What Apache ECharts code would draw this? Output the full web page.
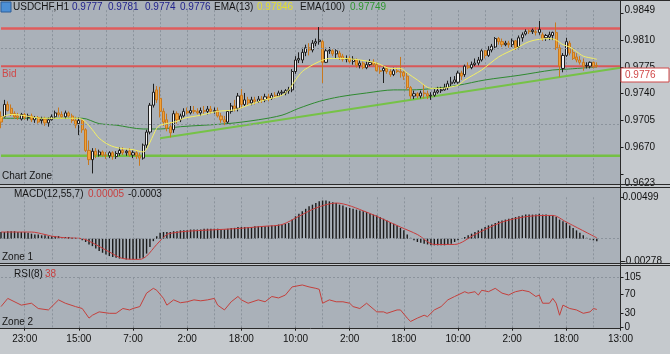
<!DOCTYPE html>
<html>
<head>
<meta charset="utf-8">
<script src="https://cdn.jsdelivr.net/npm/echarts@6/dist/echarts.min.js"></script>
<style>
  html, body { margin: 0; padding: 0; background: #c5c9cd; }
  #chart { width: 670px; height: 354px; }
</style>
</head>
<body>
<div id="chart"></div>
<script>
// time labels under the chart, one every 16 bars starting at bar 7
const timeLabels = ['23:00', '15:00', '7:00', '2:00', '18:00', '10:00', '2:00', '18:00', '10:00', '2:00', '18:00', '13:00']
const firstLabelBar = 7
const barsPerLabel = 16
const barsPerGrid = 8
const slotCount = 184

// USDCHF H1 candles: [open, close, low, high]
const ohlc = [
  [0.9710,0.9703,0.9695,0.9717],[0.9710,0.9726,0.9709,0.9732],[0.9726,0.9718,0.9717,0.9730],[0.9721,0.9714,0.9711,0.9726],[0.9714,0.9710,0.9707,0.9717],
  [0.9711,0.9709,0.9706,0.9715],[0.9707,0.9713,0.9705,0.9715],[0.9713,0.9709,0.9706,0.9715],[0.9709,0.9711,0.9705,0.9714],[0.9711,0.9706,0.9703,0.9714],
  [0.9706,0.9709,0.9702,0.9711],[0.9709,0.9703,0.9701,0.9711],[0.9705,0.9707,0.9701,0.9710],[0.9707,0.9702,0.9698,0.9710],[0.9702,0.9706,0.9697,0.9709],
  [0.9706,0.9710,0.9705,0.9713],[0.9710,0.9715,0.9707,0.9718],[0.9715,0.9713,0.9710,0.9722],[0.9713,0.9710,0.9707,0.9717],[0.9710,0.9715,0.9707,0.9718],
  [0.9715,0.9711,0.9709,0.9717],[0.9711,0.9705,0.9702,0.9714],[0.9705,0.9699,0.9695,0.9710],[0.9701,0.9705,0.9686,0.9709],[0.9705,0.9693,0.9689,0.9707],
  [0.9693,0.9666,0.9664,0.9695],[0.9666,0.9654,0.9647,0.9679],[0.9654,0.9665,0.9636,0.9669],[0.9665,0.9660,0.9656,0.9669],[0.9660,0.9664,0.9658,0.9667],
  [0.9664,0.9660,0.9658,0.9666],[0.9660,0.9659,0.9655,0.9664],[0.9659,0.9663,0.9656,0.9665],[0.9663,0.9658,0.9654,0.9665],[0.9658,0.9662,0.9655,0.9665],
  [0.9662,0.9666,0.9659,0.9670],[0.9666,0.9663,0.9660,0.9670],[0.9663,0.9665,0.9659,0.9667],[0.9665,0.9660,0.9658,0.9669],[0.9660,0.9663,0.9656,0.9666],
  [0.9663,0.9659,0.9655,0.9665],[0.9659,0.9656,0.9646,0.9663],[0.9656,0.9673,0.9654,0.9675],[0.9673,0.9690,0.9669,0.9693],[0.9690,0.9725,0.9687,0.9728],
  [0.9725,0.9742,0.9722,0.9753],[0.9745,0.9732,0.9728,0.9750],[0.9734,0.9717,0.9709,0.9749],[0.9717,0.9703,0.9698,0.9721],[0.9706,0.9695,0.9691,0.9714],
  [0.9697,0.9689,0.9683,0.9703],[0.9693,0.9714,0.9689,0.9718],[0.9714,0.9706,0.9701,0.9717],[0.9706,0.9711,0.9703,0.9714],[0.9711,0.9717,0.9709,0.9721],
  [0.9717,0.9715,0.9713,0.9722],[0.9715,0.9718,0.9713,0.9724],[0.9718,0.9717,0.9714,0.9724],[0.9717,0.9715,0.9713,0.9721],[0.9715,0.9718,0.9711,0.9722],
  [0.9718,0.9717,0.9714,0.9724],[0.9717,0.9720,0.9713,0.9724],[0.9720,0.9717,0.9714,0.9724],[0.9717,0.9718,0.9714,0.9722],[0.9718,0.9711,0.9709,0.9722],
  [0.9711,0.9706,0.9702,0.9715],[0.9706,0.9703,0.9699,0.9711],[0.9703,0.9717,0.9701,0.9718],[0.9717,0.9724,0.9714,0.9728],[0.9724,0.9721,0.9717,0.9732],
  [0.9721,0.9737,0.9717,0.9741],[0.9738,0.9726,0.9721,0.9746],[0.9726,0.9732,0.9724,0.9741],[0.9732,0.9728,0.9725,0.9736],[0.9728,0.9732,0.9725,0.9736],
  [0.9732,0.9730,0.9726,0.9736],[0.9730,0.9733,0.9728,0.9737],[0.9733,0.9732,0.9728,0.9737],[0.9732,0.9736,0.9729,0.9740],[0.9736,0.9734,0.9730,0.9740],
  [0.9734,0.9738,0.9732,0.9741],[0.9738,0.9737,0.9734,0.9742],[0.9737,0.9741,0.9736,0.9744],[0.9741,0.9742,0.9737,0.9745],[0.9741,0.9744,0.9738,0.9746],
  [0.9744,0.9745,0.9740,0.9749],[0.9745,0.9769,0.9742,0.9772],[0.9769,0.9784,0.9766,0.9789],[0.9784,0.9786,0.9780,0.9794],[0.9784,0.9794,0.9780,0.9800],
  [0.9794,0.9800,0.9789,0.9804],[0.9800,0.9797,0.9790,0.9806],[0.9797,0.9806,0.9794,0.9810],[0.9806,0.9808,0.9802,0.9812],[0.9808,0.9810,0.9804,0.9827],
  [0.9808,0.9781,0.9754,0.9810],[0.9781,0.9796,0.9780,0.9800],[0.9796,0.9797,0.9792,0.9801],[0.9796,0.9792,0.9789,0.9798],[0.9792,0.9796,0.9786,0.9798],
  [0.9793,0.9788,0.9784,0.9796],[0.9789,0.9785,0.9782,0.9792],[0.9785,0.9786,0.9781,0.9790],[0.9786,0.9782,0.9780,0.9789],[0.9782,0.9785,0.9778,0.9789],
  [0.9784,0.9777,0.9774,0.9786],[0.9777,0.9780,0.9773,0.9784],[0.9780,0.9774,0.9772,0.9782],[0.9774,0.9778,0.9772,0.9782],[0.9778,0.9781,0.9776,0.9785],
  [0.9781,0.9778,0.9776,0.9785],[0.9778,0.9770,0.9769,0.9781],[0.9770,0.9769,0.9766,0.9776],[0.9770,0.9773,0.9754,0.9776],[0.9773,0.9769,0.9766,0.9776],
  [0.9769,0.9765,0.9762,0.9772],[0.9765,0.9770,0.9763,0.9774],[0.9770,0.9769,0.9767,0.9774],[0.9769,0.9768,0.9761,0.9788],[0.9768,0.9763,0.9758,0.9770],
  [0.9763,0.9748,0.9745,0.9767],[0.9748,0.9737,0.9733,0.9750],[0.9737,0.9740,0.9733,0.9744],[0.9740,0.9737,0.9734,0.9742],[0.9737,0.9741,0.9734,0.9744],
  [0.9741,0.9740,0.9734,0.9752],[0.9740,0.9737,0.9733,0.9744],[0.9737,0.9738,0.9732,0.9742],[0.9738,0.9742,0.9736,0.9746],[0.9742,0.9744,0.9740,0.9749],
  [0.9744,0.9745,0.9741,0.9749],[0.9745,0.9748,0.9744,0.9753],[0.9748,0.9753,0.9745,0.9757],[0.9753,0.9755,0.9750,0.9762],[0.9755,0.9758,0.9753,0.9763],
  [0.9755,0.9767,0.9753,0.9770],[0.9767,0.9763,0.9758,0.9770],[0.9765,0.9776,0.9762,0.9778],[0.9776,0.9774,0.9772,0.9781],[0.9774,0.9778,0.9772,0.9782],
  [0.9778,0.9780,0.9776,0.9786],[0.9780,0.9784,0.9777,0.9788],[0.9784,0.9796,0.9782,0.9798],[0.9796,0.9790,0.9786,0.9797],[0.9790,0.9797,0.9788,0.9802],
  [0.9797,0.9802,0.9794,0.9805],[0.9801,0.9812,0.9798,0.9814],[0.9812,0.9808,0.9804,0.9814],[0.9808,0.9804,0.9801,0.9812],[0.9804,0.9806,0.9802,0.9809],
  [0.9806,0.9804,0.9800,0.9809],[0.9804,0.9809,0.9801,0.9812],[0.9809,0.9800,0.9797,0.9810],[0.9801,0.9813,0.9798,0.9816],[0.9813,0.9817,0.9808,0.9820],
  [0.9818,0.9821,0.9816,0.9824],[0.9822,0.9821,0.9818,0.9824],[0.9821,0.9823,0.9818,0.9825],[0.9821,0.9820,0.9816,0.9827],[0.9820,0.9824,0.9817,0.9835],
  [0.9817,0.9812,0.9809,0.9820],[0.9813,0.9816,0.9809,0.9818],[0.9814,0.9817,0.9810,0.9821],[0.9816,0.9820,0.9810,0.9821],[0.9820,0.9800,0.9797,0.9833],
  [0.9800,0.9776,0.9762,0.9804],[0.9773,0.9790,0.9768,0.9793],[0.9790,0.9808,0.9788,0.9813],[0.9806,0.9793,0.9790,0.9809],[0.9794,0.9786,0.9784,0.9800],
  [0.9788,0.9784,0.9781,0.9793],[0.9784,0.9781,0.9778,0.9789],[0.9781,0.9776,0.9770,0.9786],[0.9776,0.9777,0.9773,0.9781],[0.9776,0.9781,0.9773,0.9782],
  [0.9781,0.9776,0.9773,0.9782],[0.9777,0.9776,0.9774,0.9781]
]

// moving averages: [bar, price]
const ema13 = [
  [0,0.9709],[3,0.9713],[6,0.9712],[10,0.9709],[12,0.9708],[19,0.9708],[23,0.9708],[25,0.9703],[27,0.9693],[29,0.9682],
  [32,0.9673],[35,0.9669],[39,0.9667],[42,0.9664],[43,0.9668],[45,0.9686],[46,0.9695],[47,0.9699],[52,0.9704],[54,0.9708],
  [59,0.9712],[64,0.9717],[69,0.9719],[73,0.9725],[78,0.9732],[83,0.9738],[85,0.9745],[87,0.9758],[89,0.9769],[91,0.9775],
  [94,0.9782],[97,0.9786],[101,0.9786],[106,0.9784],[111,0.9780],[115,0.9773],[118,0.9773],[120,0.9767],[123,0.9758],[127,0.9747],
  [130,0.9747],[133,0.9749],[135,0.9751],[137,0.9758],[142,0.9771],[147,0.9788],[152,0.9799],[156,0.9808],[159,0.9811],[162,0.9812],
  [164,0.9810],[166,0.9804],[168,0.9801],[170,0.9795],[172,0.9789],[175,0.9786],[176,0.9785]
]
const ema100 = [
  [0,0.9708],[24,0.9708],[29,0.9701],[34,0.9699],[42,0.9694],[47,0.9694],[53,0.9697],[67,0.9701],[76,0.9706],[83,0.9712],
  [88,0.9721],[94,0.9730],[100,0.9736],[108,0.9741],[116,0.9745],[121,0.9745],[128,0.9747],[135,0.9751],[143,0.9758],[153,0.9764],
  [163,0.9771],[167,0.9772],[176,0.9775]
]

// drawn levels
const resistance = 0.9825
const bidPrice = 0.9776
const support = 0.9659
const trendLine = [[47, 0.9682], [183, 0.9774]]

// MACD(12,55,7) histogram, one value per bar
const macdHist = [
  0.0008, 0.0008, 0.0009, 0.0009, 0.0009, 0.0008, 0.0008, 0.0008, 0.0007,
  0.0006, 0.0005, 0.0005, 0.0004, 0.0004,
  0.0003, 0.0003, 0.0003, 0.0003, 0.0002, 0.0002, 0.0002, 0.0001, 0.0001, 0.0000,
  -0.0002, -0.0004, -0.0007, -0.0009, -0.0012,
  -0.0015, -0.0017, -0.0019, -0.0021,
  -0.0022, -0.0023, -0.0024, -0.0024, -0.0025, -0.0025, -0.0025, -0.0025, -0.0024, -0.0023,
  -0.0018, -0.0010, -0.0003,
  0.0003, 0.0007, 0.0008, 0.0008,
  0.0008, 0.0009, 0.0009, 0.0010, 0.0010, 0.0010, 0.0011, 0.0011, 0.0011, 0.0011, 0.0012, 0.0012, 0.0012, 0.0012, 0.0012, 0.0011, 0.0011, 0.0012,
  0.0013, 0.0013, 0.0014, 0.0014, 0.0014, 0.0014, 0.0014, 0.0015, 0.0015, 0.0015, 0.0015, 0.0015, 0.0016,
  0.0016, 0.0017, 0.0017, 0.0018, 0.0019,
  0.0023, 0.0027, 0.0030, 0.0033,
  0.0036, 0.0039, 0.0041, 0.0043, 0.0045, 0.0046, 0.0046, 0.0045, 0.0044,
  0.0043, 0.0041, 0.0040, 0.0038, 0.0037, 0.0036, 0.0035, 0.0034, 0.0033, 0.0032, 0.0030, 0.0029, 0.0028, 0.0026,
  0.0024, 0.0022, 0.0020, 0.0018, 0.0016, 0.0013, 0.0010,
  0.0005, 0.0001, -0.0002,
  -0.0004, -0.0005, -0.0006, -0.0007, -0.0008, -0.0008, -0.0008, -0.0008, -0.0008, -0.0007, -0.0006, -0.0004, -0.0002,
  0.0000, 0.0002, 0.0004, 0.0006,
  0.0008, 0.0010, 0.0012, 0.0014, 0.0016, 0.0017, 0.0019,
  0.0021, 0.0022, 0.0023, 0.0024, 0.0025, 0.0026, 0.0027, 0.0028,
  0.0029, 0.0029, 0.0029, 0.0029, 0.0030, 0.0029, 0.0029, 0.0028, 0.0028,
  0.0026, 0.0023, 0.0021, 0.0019,
  0.0016, 0.0013, 0.0010, 0.0007, 0.0004,
  0.0001, -0.0001, -0.0002, -0.0003
]
const macdSignal = [
  [0,0.0008],[9,0.0008],[13,0.0005],[15,0.0003],[19,0.0001],[24,0.0000],[27,-0.0005],[32,-0.0016],[36,-0.0024],[41,-0.0025],
  [43,-0.0021],[46,-0.0007],[49,0.0005],[51,0.0007],[55,0.0009],[69,0.0012],[78,0.0015],[83,0.0017],[88,0.0027],[93,0.0037],
  [99,0.0043],[108,0.0032],[118,0.0014],[123,0.0005],[128,-0.0007],[134,-0.0007],[140,0.0005],[148,0.0020],[156,0.0027],[163,0.0028],
  [167,0.0020],[176,0.0001]
]

// RSI(8): [bar, value]
const rsi8 = [
  [0,44],[2,61],[6,47],[9,51],[11,40],[14,37],[17,58],[19,51],[22,44],[24,40],[26,20],[27,26],[29,33],[32,30],[34,30],
  [36,40],[38,37],[39,40],[41,44],[43,72],[45,82],[46,78],[48,61],[49,47],[51,58],[53,52],[55,54],[57,58],[59,56],[61,58],
  [63,61],[64,47],[66,37],[68,54],[70,65],[71,58],[73,51],[76,58],[78,54],[80,65],[82,62],[84,68],[86,85],[89,89],[91,85],
  [93,82],[94,80],[95,51],[97,58],[99,54],[101,54],[103,51],[104,44],[106,40],[108,51],[111,33],[113,33],[114,30],[117,37],[118,37],
  [120,20],[121,13],[123,20],[125,26],[126,23],[128,37],[130,44],[132,58],[134,65],[137,75],[138,72],[140,75],[141,68],[142,78],[144,75],
  [146,82],[148,72],[150,68],[151,72],[152,75],[154,78],[156,75],[158,65],[159,68],[160,51],[162,51],[163,61],[164,51],[165,26],[166,47],
  [168,40],[170,37],[172,30],[174,33],[175,40],[176,38]
]

// axis scales
const priceMin = 0.9623, priceMax = 0.9849
const priceLabels = [0.9623, 0.9670, 0.9705, 0.9740, 0.9775, 0.9810, 0.9849]
const priceGrid = [0.9635, 0.9670, 0.9705, 0.9740, 0.9775, 0.9810, 0.9845]
const macdMin = -0.00278, macdMax = 0.00499
const rsiLabels = [0, 30, 70, 105]

const FONT = 'Liberation Sans'
const gridColor = '#8b939c'
const plotBg = '#aab1b9'
const dark = '#1c1c1c'

const slots = []
for (let i = 0; i < slotCount; i++) slots.push(String(i))

const isLabelSlot = (i) => i >= firstLabelBar && (i - firstLabelBar) % barsPerLabel === 0
const isGridSlot = (i) => i >= firstLabelBar && (i - firstLabelBar) % barsPerGrid === 0

function xAxisFor (gridIndex, withLabels) {
  return {
    type: 'category', gridIndex, data: slots, boundaryGap: false,
    axisLine: { show: false },
    axisTick: { show: withLabels, interval: (i) => isLabelSlot(i), length: 3, lineStyle: { color: dark } },
    axisLabel: {
      show: withLabels, interval: (i) => isLabelSlot(i), margin: 7,
      formatter: (v) => timeLabels[(Number(v) - firstLabelBar) / barsPerLabel] || '',
      color: '#111', fontFamily: FONT, fontSize: 10
    },
    splitLine: { show: true, interval: (i) => isGridSlot(i), lineStyle: { color: gridColor, type: [2, 2], width: 1 } }
  }
}

function yAxisFor (gridIndex, min, max, labels, ticks, fmt, margin) {
  return {
    type: 'value', gridIndex, position: 'right', min, max,
    axisLine: { show: false },
    axisTick: { show: true, length: 3, customValues: ticks, lineStyle: { color: dark } },
    axisLabel: { customValues: labels, formatter: fmt, margin: margin, color: '#111', fontFamily: FONT, fontSize: 10 },
    splitLine: { show: false }
  }
}

function gridLines (values) {
  return {
    silent: true, symbol: 'none', label: { show: false },
    lineStyle: { color: gridColor, type: [2, 2], width: 1 },
    data: values.map(v => ({ yAxis: v }))
  }
}

function text (t, x, y, color) {
  return { type: 'text', x, y, z: 100, silent: true,
    style: { text: t, fill: color || '#161616', font: '10px "Liberation Sans"', verticalAlign: 'middle' } }
}
function rule (x1, y1, x2, y2, color) {
  return { type: 'line', z: 90, silent: true, shape: { x1, y1, x2, y2 }, style: { stroke: color || '#2a2a2a', lineWidth: 1 } }
}
function panel (y, h) {
  return { type: 'rect', z: -10, silent: true, shape: { x: 0, y, width: 620, height: h }, style: { fill: plotBg } }
}

const levelLine = (value, color, width) => ({
  type: 'line', xAxisIndex: 0, yAxisIndex: 0, data: [[0, value], [slotCount - 1, value]],
  showSymbol: false, silent: true, z: 3, lineStyle: { color, width }
})

const chart = echarts.init(document.getElementById('chart'), null, { renderer: 'canvas' })

chart.setOption({
  animation: false,
  backgroundColor: '#c5c9cd',
  grid: [
    { left: 1, right: 49.5, top: 10.2, height: 173.2, outerBoundsMode: 'none' },
    { left: 1, right: 49.5, top: 197.3, height: 64.4, outerBoundsMode: 'none' },
    { left: 1, right: 49.5, top: 277.3, height: 50.4, outerBoundsMode: 'none' }
  ],
  xAxis: [xAxisFor(0, false), xAxisFor(1, false), xAxisFor(2, true)],
  yAxis: [
    yAxisFor(0, priceMin, priceMax, priceLabels, priceGrid, v => v.toFixed(4), 4),
    yAxisFor(1, macdMin, macdMax, [macdMin, macdMax], [macdMin, macdMax], v => v.toFixed(5), 2),
    yAxisFor(2, 0, 105, rsiLabels, rsiLabels, v => String(v), 4)
  ],
  series: [
    {
      name: 'EMA(100)', type: 'line', xAxisIndex: 0, yAxisIndex: 0, data: ema100, z: 1,
      showSymbol: false, smooth: 0.3, lineStyle: { color: '#2f8a30', width: 1 },
      markLine: gridLines(priceGrid)
    },
    levelLine(support, '#74c043', 2.5),
    levelLine(resistance, '#e05c5c', 2.5),
    levelLine(bidPrice, '#d85858', 2),
    {
      name: 'trend', type: 'line', xAxisIndex: 0, yAxisIndex: 0, data: trendLine,
      showSymbol: false, silent: true, z: 3, lineStyle: { color: '#76c247', width: 2 }
    },
    {
      name: 'USDCHF', type: 'candlestick', xAxisIndex: 0, yAxisIndex: 0, data: ohlc, z: 4,
      barWidth: 2.6,
      itemStyle: { color: '#f2f2f2', color0: '#f0a23a', borderColor: '#1e1e1e', borderColor0: '#c8781e', borderWidth: 1 }
    },
    {
      name: 'EMA(13)', type: 'line', xAxisIndex: 0, yAxisIndex: 0, data: ema13, z: 5,
      showSymbol: false, smooth: 0.3, lineStyle: { color: '#f4f064', width: 1 }
    },
    {
      name: 'MACD', type: 'bar', xAxisIndex: 1, yAxisIndex: 1, data: macdHist,
      barWidth: 1.4, itemStyle: { color: '#1a1a1a' },
      markLine: gridLines([macdMax])
    },
    {
      name: 'Signal', type: 'line', xAxisIndex: 1, yAxisIndex: 1, data: macdSignal,
      showSymbol: false, smooth: 0.3, lineStyle: { color: '#c83c3c', width: 1 }
    },
    {
      name: 'RSI(8)', type: 'line', xAxisIndex: 2, yAxisIndex: 2, data: rsi8,
      showSymbol: false, lineStyle: { color: '#c4403c', width: 1 },
      markLine: gridLines([105])
    }
  ],
  graphic: [
    panel(0, 184), panel(188, 75), panel(266, 62),
    rule(0, 0.5, 670, 0.5),
    rule(0, 184.5, 670, 184.5), rule(0, 187.5, 670, 187.5),
    rule(0, 263.5, 670, 263.5), rule(0, 265.5, 670, 265.5),
    rule(0, 328.5, 621, 328.5),
    rule(620.5, 0, 620.5, 329),
    { type: 'rect', z: 100, silent: true, shape: { x: 1, y: 2, width: 10, height: 10 }, style: { fill: '#4c8fd6', stroke: '#2d5f9a' } },
    text('USDCHF,H1', 13, 7),
    text('0.9777', 72, 7, '#22238c'),
    text('0.9781', 108, 7, '#22238c'),
    text('0.9774', 145, 7, '#22238c'),
    text('0.9776', 180, 7, '#22238c'),
    text('EMA(13)', 214, 7),
    text('0.97846', 257, 7, '#e4df2c'),
    text('EMA(100)', 300, 7),
    text('0.97749', 350, 7, '#2f962f'),
    text('Bid', 2, 74, '#d04848'),
    text('Chart Zone', 2, 176),
    text('MACD(12,55,7)', 14, 194),
    text('0.00005', 88, 194, '#c84040'),
    text('-0.0003', 128, 194),
    text('Zone 1', 2, 257),
    text('RSI(8)', 14, 274),
    text('38', 45, 274, '#c84040'),
    text('Zone 2', 2, 322),
    { type: 'rect', z: 110, silent: true, shape: { x: 621, y: 68, width: 48, height: 14 }, style: { fill: '#ffffff', stroke: '#d04848', lineWidth: 1 } },
    { type: 'text', x: 625, y: 75.5, z: 111, silent: true, style: { text: '0.9776', fill: '#d04848', font: '10px "Liberation Sans"', verticalAlign: 'middle' } }
  ]
})
</script>
</body>
</html>
